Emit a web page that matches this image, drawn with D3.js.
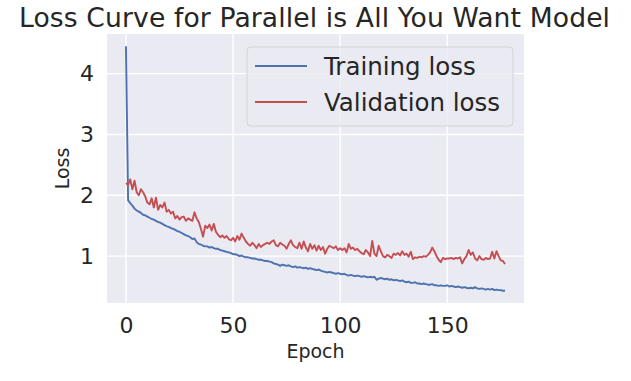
<!DOCTYPE html>
<html>
<head>
<meta charset="utf-8">
<script src="https://cdn.jsdelivr.net/npm/d3@7"></script>
<style>
html,body{margin:0;padding:0;background:#fff;}
svg{display:block;}
text{font-family:"DejaVu Sans",sans-serif;fill:#262626;}
</style>
</head>
<body>
<svg id="chart" width="631" height="381"></svg>
<script>
const title = "Loss Curve for Parallel is All You Want Model";
const seriesNames = ["Training loss", "Validation loss"];
const xTicks = [0, 50, 100, 150];
const yTicks = [1, 2, 3, 4];
const trainingLoss = [
4.45,1.92,1.87,1.83,1.78,1.75,1.73,1.71,1.68,1.67,
1.65,1.63,1.61,1.60,1.58,1.56,1.55,1.53,1.51,1.49,
1.48,1.46,1.45,1.43,1.41,1.40,1.38,1.36,1.34,1.33,
1.31,1.28,1.29,1.23,1.20,1.19,1.17,1.16,1.16,1.14,
1.15,1.13,1.12,1.12,1.10,1.09,1.08,1.07,1.06,1.05,
1.03,1.03,1.02,1.00,1.01,0.99,0.98,0.98,0.97,0.96,
0.96,0.95,0.94,0.94,0.93,0.92,0.92,0.91,0.90,0.88,
0.87,0.86,0.84,0.86,0.85,0.84,0.85,0.83,0.82,0.83,
0.81,0.82,0.81,0.80,0.81,0.79,0.80,0.79,0.78,0.77,
0.78,0.76,0.75,0.74,0.73,0.74,0.73,0.72,0.71,0.72,
0.71,0.70,0.71,0.69,0.68,0.69,0.68,0.67,0.68,0.67,
0.66,0.67,0.66,0.65,0.66,0.65,0.66,0.61,0.63,0.64,
0.63,0.62,0.63,0.61,0.62,0.60,0.61,0.60,0.59,0.60,
0.58,0.57,0.58,0.56,0.56,0.57,0.55,0.55,0.54,0.55,
0.54,0.53,0.53,0.54,0.52,0.52,0.51,0.52,0.51,0.51,
0.52,0.50,0.51,0.50,0.49,0.50,0.49,0.48,0.49,0.48,
0.47,0.48,0.47,0.49,0.47,0.46,0.47,0.46,0.45,0.46,
0.45,0.46,0.44,0.45,0.44,0.44,0.43,0.43];
const validationLoss = [
2.20,2.17,2.26,2.10,2.24,2.05,2.00,2.10,2.05,1.98,
1.88,1.85,1.95,1.80,1.96,1.76,1.84,1.80,1.88,1.73,
1.76,1.70,1.73,1.62,1.66,1.60,1.64,1.65,1.58,1.62,
1.60,1.58,1.72,1.62,1.56,1.45,1.32,1.50,1.46,1.52,
1.42,1.53,1.40,1.35,1.31,1.34,1.30,1.33,1.28,1.26,
1.30,1.24,1.33,1.27,1.37,1.30,1.24,1.20,1.17,1.22,
1.18,1.13,1.20,1.15,1.18,1.20,1.22,1.20,1.24,1.26,
1.18,1.16,1.22,1.19,1.17,1.12,1.20,1.26,1.18,1.15,
1.13,1.22,1.12,1.24,1.14,1.08,1.20,1.12,1.18,1.09,
1.17,1.10,1.15,1.04,1.12,1.17,1.15,1.13,1.16,1.10,
1.13,1.10,1.13,1.06,1.20,1.12,1.14,1.10,1.12,1.08,
1.05,1.03,1.10,1.06,1.00,1.25,1.04,1.00,1.17,1.08,
1.00,0.98,1.02,1.00,0.97,1.04,1.02,1.05,1.01,1.08,
1.02,1.04,0.99,1.07,0.95,0.98,0.97,0.99,0.98,1.00,
0.99,1.02,1.06,1.14,1.08,1.00,0.94,0.90,0.97,0.95,
0.96,0.96,0.97,0.95,0.97,0.96,0.98,0.88,0.95,1.00,
1.10,1.02,1.06,0.96,0.93,1.00,0.95,0.94,0.97,0.95,
0.96,1.07,0.96,1.08,1.00,0.93,0.92,0.87];
const colors = ["#4c72b0", "#c44e52"];

const svg = d3.select("#chart");
const m = {left:107, right:524, top:34, bottom:303};
const n = trainingLoss.length;
const x = d3.scaleLinear().domain([-0.05*(n-1), (n-1)*1.05]).range([m.left, m.right]);
const allV = trainingLoss.concat(validationLoss);
const vmin = d3.min(allV), vmax = d3.max(allV), vr = vmax - vmin;
const y = d3.scaleLinear().domain([vmin-0.05*vr, vmax+0.05*vr]).range([m.bottom, m.top]);

svg.append("rect").attr("x", m.left).attr("y", m.top)
  .attr("width", m.right-m.left).attr("height", m.bottom-m.top).attr("fill", "#eaeaf2");

// grid
svg.append("g").selectAll("line").data(xTicks).join("line")
  .attr("x1", d=>x(d)).attr("x2", d=>x(d)).attr("y1", m.top).attr("y2", m.bottom)
  .attr("stroke", "#fff").attr("stroke-width", 1.4);
svg.append("g").selectAll("line").data(yTicks).join("line")
  .attr("y1", d=>y(d)).attr("y2", d=>y(d)).attr("x1", m.left).attr("x2", m.right)
  .attr("stroke", "#fff").attr("stroke-width", 1.4);

// axes via d3 axis
const xAxis = svg.append("g").attr("transform", `translate(0,${m.bottom})`)
  .call(d3.axisBottom(x).tickValues(xTicks).tickFormat(d3.format("d")).tickSize(0).tickPadding(14));
xAxis.select(".domain").remove();
xAxis.selectAll("text").attr("font-size", 22).attr("font-family", "DejaVu Sans").attr("fill", "#262626");
const yAxis = svg.append("g").attr("transform", `translate(${m.left},0)`)
  .call(d3.axisLeft(y).tickValues(yTicks).tickFormat(d3.format("d")).tickSize(0).tickPadding(13));
yAxis.select(".domain").remove();
yAxis.selectAll("text").attr("font-size", 22).attr("font-family", "DejaVu Sans").attr("fill", "#262626");

// lines
const line = d3.line().x((d,i)=>x(i)).y(d=>y(d));
[trainingLoss, validationLoss].forEach((s, k) => {
  svg.append("path").datum(s).attr("d", line).attr("fill", "none")
    .attr("stroke", colors[k]).attr("stroke-width", 1.9).attr("stroke-linejoin", "round");
});

// title & labels
svg.append("text").attr("x", (m.left+m.right)/2 - 1).attr("y", 27).attr("text-anchor", "middle")
  .attr("font-size", 26.6).attr("textLength", 591).text(title);
svg.append("text").attr("x", (m.left+m.right)/2).attr("y", 358).attr("text-anchor", "middle")
  .attr("font-size", 19).text("Epoch");
svg.append("text").attr("transform", `translate(69,${(m.top+m.bottom)/2}) rotate(-90)`)
  .attr("text-anchor", "middle").attr("font-size", 19).text("Loss");

// legend
const lg = svg.append("g");
lg.append("rect").attr("x", 247).attr("y", 47).attr("width", 266).attr("height", 79)
  .attr("rx", 4).attr("fill", "#eaeaf2").attr("fill-opacity", 0.8).attr("stroke", "#d2d2d8").attr("stroke-width", 1);
seriesNames.forEach((nm, k) => {
  const yy = 66 + k*36;
  lg.append("line").attr("x1", 255).attr("x2", 307).attr("y1", yy).attr("y2", yy)
    .attr("stroke", colors[k]).attr("stroke-width", 1.9);
  lg.append("text").attr("x", 324).attr("y", yy).attr("dy", "0.35em").attr("font-size", 24.5).text(nm);
});
</script>
</body>
</html>
